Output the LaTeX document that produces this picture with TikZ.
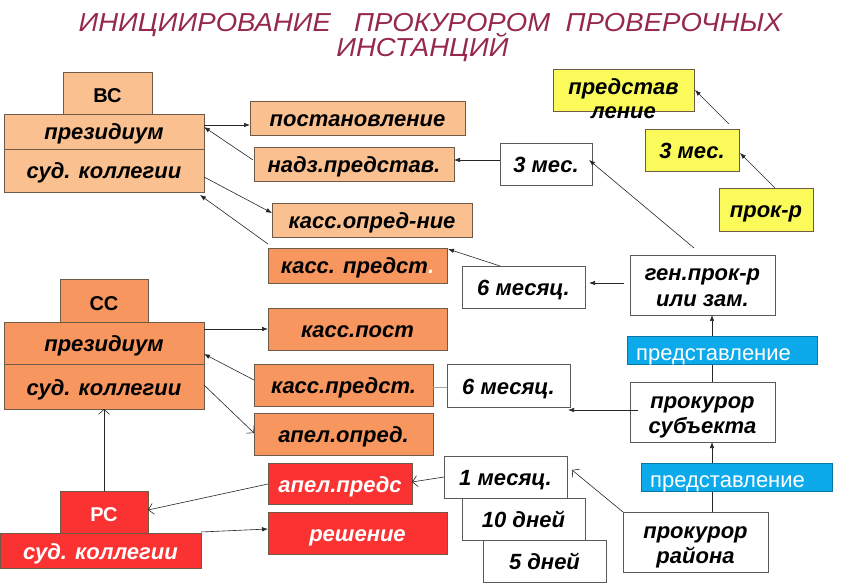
\documentclass[tikz,border=0pt]{standalone}
\usepackage{fontspec}
\setmainfont{Liberation Sans}
\newfontfamily\titlefont[FakeStretch=1.06]{Liberation Sans}
\usetikzlibrary{arrows.meta,calc}
\definecolor{lor}{RGB}{250,192,144}
\definecolor{mor}{RGB}{247,150,95}
\definecolor{rdd}{RGB}{250,50,50}
\definecolor{yel}{RGB}{250,250,90}
\definecolor{blu}{RGB}{12,170,235}
\definecolor{bord}{RGB}{110,90,70}
\definecolor{wbord}{RGB}{90,90,90}
\definecolor{ttl}{RGB}{150,40,80}
\newcommand\boxfont{\fontsize{22}{25}\selectfont\bfseries\itshape}
\newcommand\courtfont{\fontsize{20}{24}\selectfont\bfseries}
\tikzset{
  bx/.style={draw=bord, line width=0.8pt, inner sep=0pt, outer sep=0pt, font=\boxfont, align=center, text height=17pt, text depth=0pt},
  two/.style={text height=42pt, text depth=0pt},
  court/.style={font=\courtfont, text height=19.4pt, text depth=0pt},
  lo/.style={bx, fill=lor},
  mo/.style={bx, fill=mor},
  rd/.style={bx, fill=rdd, text=white},
  ye/.style={bx, fill=yel},
  wh/.style={bx, draw=wbord, fill=white},
  bl/.style={draw=blu!70!black, line width=0.6pt, fill=blu, inner sep=0pt, outer sep=0pt},
  bltext/.style={text=white, font=\fontsize{22}{24}\selectfont, inner sep=0pt, anchor=base west},
  ttext/.style={text=ttl, font=\titlefont\itshape\fontsize{26}{30}\selectfont, inner sep=0pt, anchor=base},
  fa/.style={-{Latex[length=6pt,width=4.5pt]}, line width=0.6pt, draw=black!85},
  oa/.style={-{Straight Barb[length=5pt,width=11pt]}, line width=0.6pt, draw=black!85},
}
\begin{document}
\begin{tikzpicture}[x=1pt,y=-1pt]
\useasboundingbox (0,0) rectangle (854,585);
\fill[white] (0,0) rectangle (854,585);
% title
\node[ttext] (t1) at (430.5,32) {ИНИЦИИРОВАНИЕ\ \ \ ПРОКУРОРОМ\ \ ПРОВЕРОЧНЫХ};
\node[ttext] (t2) at (422.5,57) {ИНСТАНЦИЙ};
% VS block
\node[lo, court, minimum width=89, minimum height=42] (vsname) at (107.5,93) {ВС};
\node[lo, minimum width=200, minimum height=35] (vp) at (104,131.5) {президиум};
\node[lo, minimum width=200, minimum height=43] (vs) at (104,170.5) {суд. коллегии};
\node[lo, minimum width=215, minimum height=34] (post) at (357.5,118) {постановление};
\node[lo, minimum width=200, minimum height=34] (nadz) at (354,164) {надз.представ.};
\node[lo, minimum width=200, minimum height=34] (kassopr) at (372,220) {касс.опред-ние};
\node[mo, minimum width=179, minimum height=35] (kasspr1) at (357.5,265.5) {касс. предст\textcolor{white}{.}};
% SS block
\node[mo, court, minimum width=88, minimum height=43] (ssname) at (104,300.5) {СС};
\node[mo, minimum width=200, minimum height=42] (sp) at (104,343) {президиум};
\node[mo, minimum width=200, minimum height=45] (ss) at (104,386.5) {суд. коллегии};
\node[mo, minimum width=179, minimum height=42] (kasspost) at (357.5,329) {касс.пост};
\node[mo, minimum width=179, minimum height=42] (kasspr2) at (343.5,385) {касс.предст.};
\node[mo, minimum width=179, minimum height=42] (apopr) at (343.5,434) {апел.опред.};
% RS block
\node[rd, minimum width=144, minimum height=41] (appr) at (340,483.5) {апел.предс};
\node[rd, minimum width=179, minimum height=42] (resh) at (357.5,533) {решение};
\node[rd, court, minimum width=88, minimum height=42] (rs) at (104,512) {РС};
\node[rd, minimum width=201, minimum height=35] (rsud) at (100.5,550.5) {суд. коллегии};
% yellow
\node[ye, minimum width=141, minimum height=42] (predy) at (623.5,90) {};
\node[font=\boxfont, align=center, inner sep=0pt, text height=41pt, text depth=0pt] (predytxt) at (623.5,98.5) {представ\\[-1pt]ление};
\node[ye, minimum width=94, minimum height=42] (m3y) at (692,150) {3 мес.};
\node[ye, minimum width=94, minimum height=43] (prokr) at (766,209.5) {прок-р};
% white
\node[wh, minimum width=92, minimum height=42] (m3w) at (546,164) {3 мес.};
\node[wh, minimum width=123, minimum height=42] (m6a) at (523.5,287) {6 месяц.};
\node[wh, two, minimum width=145, minimum height=60] (gen) at (702.5,285) {ген.прок-р\\или зам.};
\node[wh, two, minimum width=145, minimum height=60] (subj) at (702.5,412) {прокурор\\субъекта};
\node[wh, minimum width=123, minimum height=43] (m6b) at (508.5,385.5) {6 месяц.};
\node[wh, minimum width=123, minimum height=42] (m1) at (505.5,477) {1 месяц.};
\node[wh, minimum width=123, minimum height=42] (d10) at (523.5,519) {10 дней};
\node[wh, minimum width=123, minimum height=42] (d5) at (544.5,561) {5 дней};
\node[wh, two, minimum width=145, minimum height=60] (rayon) at (695.5,542) {прокурор\\района};
% connectors
\draw[fa] ($(vp.east)+(0,-6.5)$) -- ($(post.west)+(0,7)$);
\draw[fa] ($(nadz.west)+(-1,-4)$) -- ($(vp.east)+(0,-4.5)$);
\draw[fa] ($(m3w.west)+(0,-4)$) -- ($(nadz.east)+(0,-4)$);
\draw[fa] ($(vs.east)+(0,6.5)$) -- ($(kassopr.west)+(0,-7)$);
\draw[fa] ($(kasspr1.north west)+(0,-4)$) -- ($(vs.south east)+(-4,3)$);
\draw[fa] ($(m6a.north west)+(38,0)$) -- ($(kasspr1.north east)+(1,1)$);
\draw[fa] ($(gen.west)+(-6,-2)$) -- ($(m6a.east)+(4,-4)$);
\draw[fa] ($(gen.north)+(-8.5,-7)$) -- ($(m3w.east)+(-3,-4)$);
\draw[fa] ($(prokr.north)+(9,0)$) -- ($(m3y.east)+(1,3)$);
\draw[fa] ($(m3y.north)+(37,-5)$) -- ($(predy.east)+(1,0)$);
\draw[fa] ($(rayon.north)+(16.5,0)$) -- ($(subj.south)+(9.5,0)$);
\draw[fa] ($(subj.north)+(9.5,0)$) -- ($(gen.south)+(9.5,0)$);
\draw[fa] ($(subj.west)+(8,-2)$) -- ($(m6b.south east)+(-2,3)$);
\draw[line width=1pt, draw=black!35] ($(kasspr2.east)+(0,2)$) -- ($(m6b.west)+(0,1.5)$);
\draw[fa] ($(kasspr2.west)+(0,-5)$) -- ($(sp.east)+(0,11)$);
\draw[fa] ($(sp.east)+(0,-14)$) -- (kasspost.west);
\draw[oa] ($(ss.east)+(0,-1.5)$) -- ($(apopr.west)+(0,-1)$);
\draw[oa] (rs.north) -- (ss.south);
\draw[oa] ($(appr.west)+(0,0.5)$) -- ($(rs.east)+(0,-2)$);
\draw[oa] (m1.west) -- ($(appr.east)+(0,-1.5)$);
\draw[fa] ($(rsud.north east)+(0,-1)$) -- ($(resh.west)+(0,-4)$);
\draw[oa] (rayon.north west) -- ($(m1.east)+(5,-7)$);
% blue boxes (on top of vertical lines)
\node[bl, minimum width=190, minimum height=28] (blue1) at (722,350) {};
\node[bltext] (blue1t) at (636,360) {представление};
\node[bl, minimum width=191, minimum height=28] (blue2) at (736.5,477) {};
\node[bltext] (blue2t) at (650,487) {представление};
\end{tikzpicture}
\end{document}
